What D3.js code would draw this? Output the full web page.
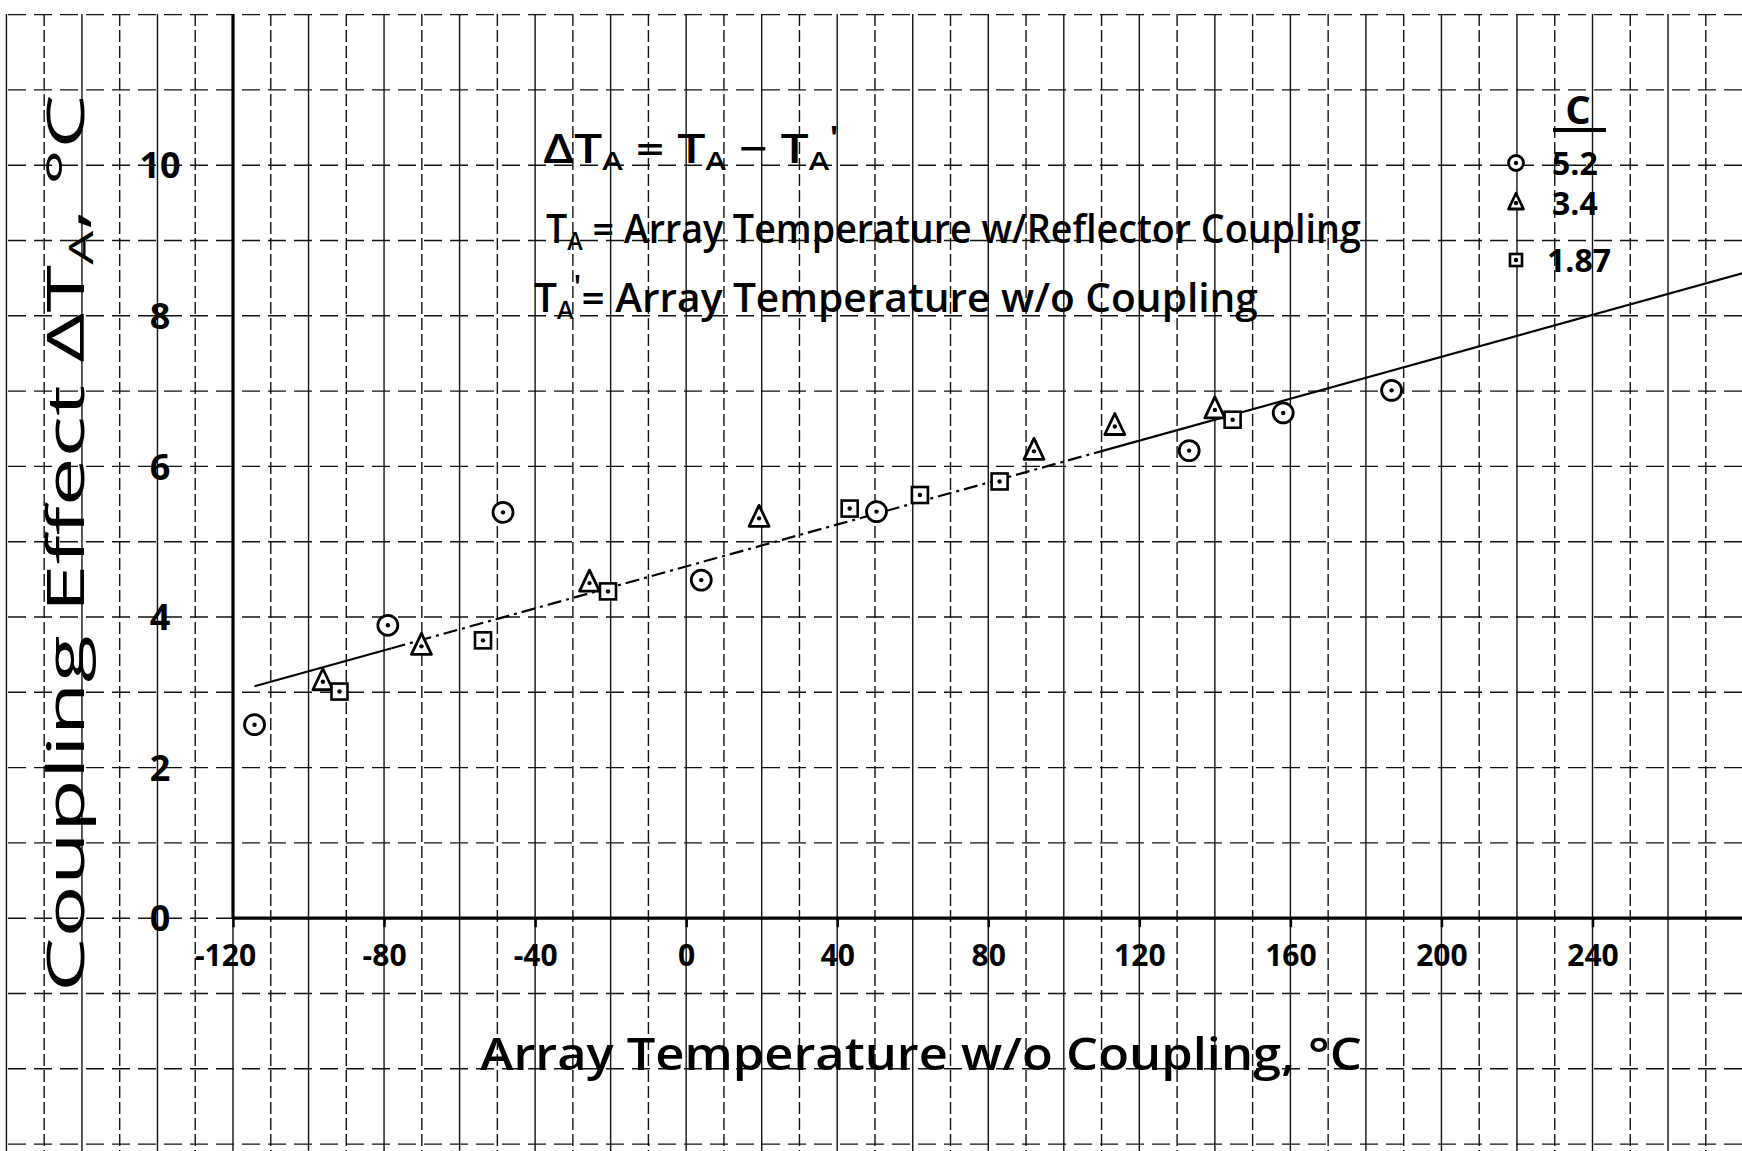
<!DOCTYPE html>
<html>
<head>
<meta charset="utf-8">
<script src="https://cdn.jsdelivr.net/npm/d3@7"></script>
<style>
  html, body { margin: 0; padding: 0; background: #fff; }
  svg { display: block; }
  text { font-family: "Open Sans", "Liberation Sans", sans-serif; fill: #000; }
</style>
</head>
<body>
<svg id="chart" width="1742" height="1151"></svg>
<script>
// ---------------- data ----------------
const seriesNames = ["5.2", "3.4", "1.87"];           // parameter C
const c52X = [-114.3, -79.0, -48.5, 4.0, 50.4, 133.2, 158.1, 186.8];
const c52Y = [2.57, 3.89, 5.39, 4.49, 5.40, 6.21, 6.71, 7.01];
const c34X = [-96.2, -70.1, -25.6, 19.3, 92.1, 113.5, 140.0];
const c34Y = [3.14, 3.61, 4.45, 5.31, 6.20, 6.53, 6.75];
const c187X = [-91.8, -53.8, -20.7, 43.3, 61.9, 83.0, 144.7];
const c187Y = [3.01, 3.69, 4.34, 5.44, 5.62, 5.80, 6.62];
const fitX = [-114.3, 280];
const fitY = [3.08, 8.57];
const xTicks = [-120, -80, -40, 0, 40, 80, 120, 160, 200, 240];
const yTicks = [0, 2, 4, 6, 8, 10];

// ---------------- layout ----------------
const svg = d3.select("#chart");
const x = d3.scaleLinear().domain([-120, 240]).range([233, 1592.5]);
const y = d3.scaleLinear().domain([0, 10]).range([918.2, 165.2]);

// graph-paper grid
const grid = svg.append("g");
d3.range(-180, 290, 10).forEach((v, i) => {
  grid.append("line")
    .attr("x1", x(v)).attr("x2", x(v))
    .attr("y1", 14).attr("y2", 1151)
    .attr("stroke", "#111").attr("stroke-width", 1.4)
    .attr("stroke-dasharray", i % 2 ? "12,4" : null);
});
d3.range(-3, 13).forEach(v => {
  grid.append("line")
    .attr("x1", 8).attr("x2", 1742)
    .attr("y1", y(v)).attr("y2", y(v))
    .attr("stroke", "#111").attr("stroke-width", 1.4)
    .attr("stroke-dasharray", "18,8");
});

// axes (heavy lines)
const xAxis = d3.axisBottom(x).tickValues(xTicks).tickSize(9)
  .tickFormat(d => String(d));
const gx = svg.append("g").attr("transform", `translate(0,${y(0)})`).call(xAxis);
gx.select(".domain").remove();
gx.selectAll(".tick line").attr("stroke", "#000").attr("stroke-width", 2.5);
gx.selectAll(".tick text")
  .attr("y", 37).attr("dy", "0.35em")
  .style("font-size", "30px").style("font-weight", "700")
  .attr("dx", d => d === -120 ? -8 : 0);
svg.append("line")
  .attr("x1", x(-120)).attr("x2", 1742)
  .attr("y1", y(0)).attr("y2", y(0))
  .attr("stroke", "#000").attr("stroke-width", 3.2);

const yAxis = d3.axisLeft(y).tickValues(yTicks).tickSize(0)
  .tickFormat(d => String(d));
const gy = svg.append("g").attr("transform", `translate(${x(-120)},0)`).call(yAxis);
gy.select(".domain").remove();
gy.selectAll(".tick text")
  .attr("x", -73).attr("dy", "0.35em")
  .attr("text-anchor", "middle")
  .style("font-size", "36px").style("font-weight", "700");
svg.append("line")
  .attr("x1", x(-120)).attr("x2", x(-120))
  .attr("y1", 14).attr("y2", y(0))
  .attr("stroke", "#000").attr("stroke-width", 3.2);

// fitted line: solid ends, broken middle (as drawn on the sheet)
const lineGen = d3.line().x(d => x(d[0])).y(d => y(d[1]));
const fitAt = v => fitY[0] + (fitY[1] - fitY[0]) * (v - fitX[0]) / (fitX[1] - fitX[0]);
const segs = [
  {a: fitX[0], b: -78, dash: null},
  {a: -78, b: 110, dash: "14,5,3,5"},
  {a: 110, b: fitX[1], dash: null}
];
segs.forEach(s => {
  svg.append("path")
    .attr("d", lineGen([[s.a, fitAt(s.a)], [s.b, fitAt(s.b)]]))
    .attr("fill", "none").attr("stroke", "#000").attr("stroke-width", 2.2)
    .attr("stroke-dasharray", s.dash);
});

// markers
function drawMarker(g, shape, cx, cy, s) {
  const m = g.append("g").attr("transform", `translate(${cx},${cy})`);
  if (shape === "circle") {
    m.append("circle").attr("r", 10 * s).attr("fill", "#fff")
      .attr("stroke", "#000").attr("stroke-width", 2.8);
  } else if (shape === "triangle") {
    m.append("path")
      .attr("d", `M0,${-13 * s} L${10 * s},${8 * s} L${-10 * s},${8 * s} Z`)
      .attr("fill", "#fff").attr("stroke", "#000").attr("stroke-width", 2.8)
      .attr("stroke-linejoin", "round");
  } else {
    m.append("rect").attr("x", -8 * s).attr("y", -8 * s)
      .attr("width", 16 * s).attr("height", 16 * s)
      .attr("fill", "#fff").attr("stroke", "#000").attr("stroke-width", 2.6);
  }
  m.append("circle").attr("r", 2.2).attr("fill", "#000");
}
const series = [
  {shape: "circle", xs: c52X, ys: c52Y},
  {shape: "triangle", xs: c34X, ys: c34Y},
  {shape: "square", xs: c187X, ys: c187Y}
];
const mg = svg.append("g");
series.forEach(sr => {
  sr.xs.forEach((v, i) => drawMarker(mg, sr.shape, x(v), y(sr.ys[i]), 1));
});

// helper: scale a text group horizontally to a target width
function placeText(parent, tx, ty, rot, targetW, build, size, weight) {
  const g = parent.append("g");
  const t = g.append("text").style("font-size", size + "px").style("font-weight", weight);
  build(t);
  const w = t.node().getComputedTextLength();
  const s = targetW / w;
  g.attr("transform", `translate(${tx},${ty}) rotate(${rot}) scale(${s},1)`);
  return g;
}
const sub = (t, str) => t.append("tspan").attr("baseline-shift", "-28%").style("font-size", "0.62em").text(str);
const sup = (t, str) => t.append("tspan").attr("baseline-shift", "45%").style("font-size", "0.8em").text(str);
const plain = (t, str) => t.append("tspan").text(str);

// annotations
placeText(svg, 543, 163, 0, 296, t => {
  plain(t, "ΔT"); sub(t, "A"); plain(t, " = T"); sub(t, "A"); plain(t, " − T"); sub(t, "A"); sup(t, "'");
}, 40, 600);
placeText(svg, 546, 243, 0, 815, t => {
  plain(t, "T"); sub(t, "A"); plain(t, " = Array Temperature  w/Reflector Coupling");
}, 40, 600);
placeText(svg, 534, 312, 0, 724, t => {
  plain(t, "T"); sub(t, "A"); sup(t, "'"); plain(t, "= Array Temperature  w/o Coupling");
}, 40, 600);

// axis titles
placeText(svg, 480, 1070, 0, 882, t => {
  plain(t, "Array Temperature w/o Coupling, °C");
}, 46, 600);
placeText(svg, 84, 992, -90, 898, t => {
  plain(t, "Coupling Effect ΔT"); sub(t, "A"); plain(t, ", °C");
}, 52, 500);

// legend
const lg = svg.append("g");
lg.append("text").attr("x", 1578).attr("y", 124).attr("text-anchor", "middle")
  .style("font-size", "40px").style("font-weight", "700").text("C");
lg.append("line").attr("x1", 1553).attr("x2", 1606).attr("y1", 130).attr("y2", 130)
  .attr("stroke", "#000").attr("stroke-width", 4);
const legendRows = [163, 203, 260];
const legendShapes = ["circle", "triangle", "square"];
seriesNames.forEach((name, i) => {
  drawMarker(lg, legendShapes[i], 1516, legendRows[i], 0.75);
  lg.append("text").attr("x", i === 2 ? 1547 : 1552).attr("y", legendRows[i]).attr("dy", "0.36em")
    .style("font-size", "32px").style("font-weight", "700").text(name);
});
</script>
</body>
</html>
